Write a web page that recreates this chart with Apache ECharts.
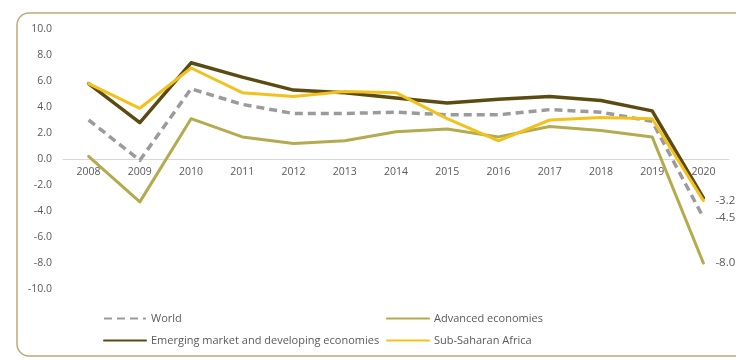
<!DOCTYPE html>
<html>
<head>
<meta charset="utf-8">
<script src="https://cdn.jsdelivr.net/npm/echarts@6/dist/echarts.min.js"></script>
<style>
  html, body { margin: 0; padding: 0; background: #ffffff; }
  #chart { width: 736px; height: 360px; }
</style>
</head>
<body>
<div id="chart"></div>
<script>
// Real GDP growth, annual percent change
const years = ['2008','2009','2010','2011','2012','2013','2014','2015','2016','2017','2018','2019','2020'];
const world = [3.0, -0.1, 5.4, 4.2, 3.5, 3.5, 3.6, 3.4, 3.4, 3.8, 3.6, 2.9, -4.5];
const advanced = [0.2, -3.3, 3.1, 1.7, 1.2, 1.4, 2.1, 2.3, 1.7, 2.5, 2.2, 1.7, -8.0];
const emerging = [5.8, 2.8, 7.4, 6.3, 5.3, 5.1, 4.7, 4.3, 4.6, 4.8, 4.5, 3.7, -3.0];
const ssa = [5.8, 3.9, 7.0, 5.1, 4.8, 5.2, 5.1, 3.1, 1.4, 3.0, 3.2, 3.1, -3.2];

const names = {
  world: 'World',
  advanced: 'Advanced economies',
  emerging: 'Emerging market and developing economies',
  ssa: 'Sub-Saharan Africa'
};

const FONT = '"Open Sans"';
const TEXT = '#5a5a5a';

// grid geometry: y runs -10..10, so zero sits half the plot height above the bottom
const GRID = { left: 63, right: 7, top: 29, bottom: 71 };
const plotHeight = 360 - GRID.top - GRID.bottom;

function lineSeries(name, data, color, width, dashed, withEnd) {
  return {
    name: name,
    type: 'line',
    data: data,
    symbol: 'none',
    animation: false,
    lineStyle: {
      color: color,
      width: width,
      type: dashed ? [8, 5] : 'solid',
      join: 'round',
      cap: dashed ? 'butt' : 'round'
    },
    itemStyle: { color: color },
    emphasis: { disabled: true },
    endLabel: withEnd ? {
      show: true,
      distance: 12,
      color: TEXT,
      fontFamily: FONT,
      fontSize: 11.5,
      formatter: p => Number(p.value).toFixed(1)
    } : { show: false }
  };
}

function legendBlock(items, left) {
  return {
    data: items,
    orient: 'vertical',
    left: left,
    top: 313,
    padding: 0,
    itemWidth: 42,
    itemHeight: 8,
    itemGap: 11,
    selectedMode: false,
    itemStyle: { opacity: 0 },
    textStyle: { color: TEXT, fontFamily: FONT, fontSize: 11 }
  };
}

const chart = echarts.init(document.getElementById('chart'), null, { renderer: 'canvas' });
chart.setOption({
  backgroundColor: '#ffffff',
  animation: false,
  textStyle: { fontFamily: FONT },
  graphic: [{
    type: 'rect',
    silent: true,
    z: -1,
    shape: { x: 17, y: 13, width: 740, height: 343, r: 12 },
    style: { fill: 'none', stroke: '#b9ab78', lineWidth: 1.5 }
  }],
  grid: GRID,
  legend: [
    legendBlock([names.world, names.emerging], 103),
    legendBlock([names.advanced, names.ssa], 386)
  ],
  xAxis: {
    type: 'category',
    data: years,
    boundaryGap: true,
    offset: -plotHeight / 2,
    axisLine: { onZero: false, lineStyle: { color: '#d6d8e0', width: 1 } },
    axisTick: { show: false },
    axisLabel: { interval: 0, margin: 8, color: TEXT, fontFamily: FONT, fontSize: 10.5 },
    splitLine: { show: false }
  },
  yAxis: {
    type: 'value',
    min: -10,
    max: 10,
    interval: 2,
    axisLine: { show: false },
    axisTick: { show: false },
    splitLine: { show: false },
    axisLabel: {
      margin: 11,
      color: TEXT,
      fontFamily: FONT,
      fontSize: 10.5,
      formatter: v => v.toFixed(1)
    }
  },
  series: [
    lineSeries(names.advanced, advanced, '#b3ab4e', 3, false, true),
    lineSeries(names.world, world, '#9b9b9e', 3.5, true, true),
    lineSeries(names.emerging, emerging, '#5b4b12', 3.5, false, false),
    lineSeries(names.ssa, ssa, '#f3c11c', 3, false, true)
  ]
});
</script>
</body>
</html>
